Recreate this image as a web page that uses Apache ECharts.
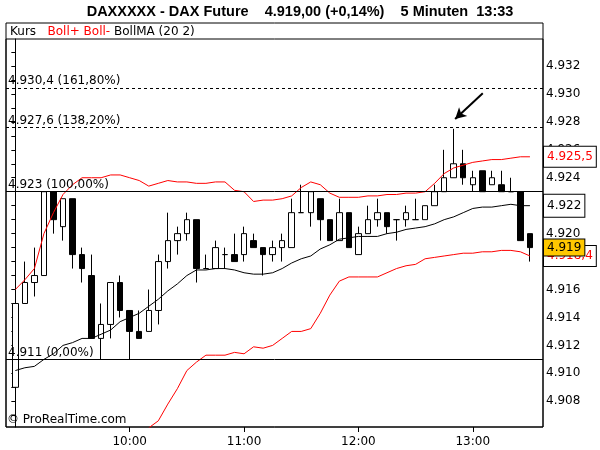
<!DOCTYPE html>
<html><head><meta charset="utf-8">
<script src="https://cdn.jsdelivr.net/npm/echarts@6/dist/echarts.min.js"></script>
<style>html,body{margin:0;padding:0;background:#fff}#c{width:600px;height:450px}</style>
</head><body><div id="c"></div>
<script>
const times = ['09:00','09:05','09:10','09:15','09:20','09:25','09:30','09:35','09:40','09:45','09:50','09:55',
 '10:00','10:05','10:10','10:15','10:20','10:25','10:30','10:35','10:40','10:45','10:50','10:55',
 '11:00','11:05','11:10','11:15','11:20','11:25','11:30','11:35','11:40','11:45','11:50','11:55',
 '12:00','12:05','12:10','12:15','12:20','12:25','12:30','12:35','12:40','12:45','12:50','12:55',
 '13:00','13:05','13:10','13:15','13:20','13:25','13:30'];
const open = [4909.0,4915.0,4916.5,4917.0,4923.0,4920.5,4922.5,4918.5,4917.0,4912.5,
 4913.5,4916.5,4914.5,4913.0,4913.0,4914.5,4918.0,4919.5,4920.0,4921.0,
 4917.5,4917.5,4918.5,4918.5,4918.5,4919.5,4919.0,4918.5,4919.0,4919.0,
 4921.5,4921.5,4922.5,4921.0,4919.5,4921.5,4918.5,4920.0,4921.0,4921.5,
 4921.0,4921.0,4921.0,4921.0,4922.0,4923.0,4924.0,4925.0,4923.5,4924.5,
 4923.5,4923.5,4923.0,4923.0,4920.0];
const close = [4915.0,4916.5,4917.0,4923.0,4921.0,4922.5,4918.5,4917.5,4912.5,4913.5,
 4916.5,4914.5,4913.0,4912.5,4914.5,4918.0,4919.5,4920.0,4921.0,4917.5,
 4917.5,4919.0,4918.5,4918.0,4920.0,4919.0,4918.5,4919.0,4919.5,4921.5,
 4921.5,4923.0,4921.0,4919.5,4921.5,4919.0,4920.0,4921.0,4921.5,4920.5,
 4921.0,4921.5,4921.0,4922.0,4923.0,4924.0,4925.0,4924.0,4924.0,4923.0,
 4924.0,4923.0,4923.0,4919.5,4919.0];
const low = [4908.5,4915.0,4915.5,4917.0,4920.0,4919.5,4917.5,4916.5,4912.5,4911.0,
 4912.5,4914.0,4911.0,4912.5,4913.0,4913.5,4917.5,4918.5,4919.5,4916.5,
 4917.5,4917.5,4917.5,4918.0,4918.0,4919.0,4917.0,4918.0,4918.0,4919.0,
 4921.5,4920.5,4919.5,4919.5,4919.5,4919.0,4918.5,4920.0,4920.5,4920.0,
 4919.5,4920.5,4921.0,4921.0,4922.0,4923.0,4924.0,4923.5,4923.0,4923.0,
 4923.5,4923.0,4923.0,4919.5,4918.0];
const high = [4915.0,4918.0,4919.0,4923.0,4923.0,4922.5,4922.5,4919.0,4918.5,4915.0,
 4916.5,4917.0,4914.5,4914.5,4916.0,4918.5,4921.5,4920.5,4921.5,4921.0,
 4918.5,4919.5,4919.0,4920.0,4920.5,4920.0,4919.0,4919.5,4920.0,4922.5,
 4923.5,4923.0,4922.5,4921.0,4922.5,4921.5,4920.5,4922.0,4922.5,4921.5,
 4921.0,4922.0,4922.5,4922.0,4923.5,4926.0,4927.5,4926.0,4924.5,4924.5,
 4924.5,4924.5,4924.0,4923.0,4920.0];
const bollUp = [4916.0,4916.7,4917.5,4920.0,4921.5,4922.8,4923.5,4924.0,4924.0,4924.0,
 4924.2,4924.2,4924.0,4923.8,4923.4,4923.6,4923.8,4923.7,4923.7,4923.6,
 4923.6,4923.7,4923.7,4923.1,4923.0,4922.3,4922.4,4922.4,4922.5,4922.7,
 4923.3,4923.7,4923.5,4922.9,4922.6,4922.6,4922.6,4922.7,4922.7,4922.8,
 4922.8,4922.9,4922.9,4923.0,4923.6,4924.3,4924.7,4924.9,4925.1,4925.2,
 4925.3,4925.3,4925.4,4925.5,4925.5];
const bollMA = [4910.2,4910.4,4910.5,4911.0,4911.4,4912.0,4912.2,4912.5,4912.5,4912.8,
 4913.1,4913.7,4914.0,4914.3,4914.8,4915.3,4915.9,4916.4,4917.0,4917.4,
 4917.4,4917.5,4917.5,4917.4,4917.2,4917.1,4917.1,4917.2,4917.5,4917.9,
 4918.2,4918.4,4918.9,4919.2,4919.6,4919.7,4919.8,4919.8,4919.8,4920.0,
 4920.1,4920.3,4920.4,4920.5,4920.7,4921.0,4921.2,4921.5,4921.8,4921.9,
 4921.9,4922.0,4922.1,4922.0,4922.0];
const bollDown = [null,null,null,null,null,null,null,null,null,null,
 null,null,4904.6,4905.4,4906.1,4906.6,4907.8,4908.9,4910.2,4910.8,
 4911.3,4911.3,4911.3,4911.5,4911.4,4911.9,4911.8,4912.0,4912.5,4913.0,
 4913.0,4913.2,4914.3,4915.6,4916.6,4916.9,4916.9,4916.9,4916.9,4917.2,
 4917.5,4917.7,4917.8,4918.2,4918.3,4918.4,4918.5,4918.6,4918.6,4918.7,
 4918.7,4918.8,4918.8,4918.7,4918.4];
const xTickLabels = ['10:00','11:00','12:00','13:00'];
const yTickLabels = [4908,4910,4912,4914,4916,4918,4920,4922,4924,4926,4928,4930,4932];
const fibLevels = [4911, 4923, 4927.6, 4930.4];
const fibPct = ['0,00%','100,00%','138,20%','161,80%'];

function de(v, d) {
  const s = v.toFixed(d);
  const parts = s.split('.');
  const ip = parts[0].replace(/\B(?=(\d{3})+(?!\d))/g, '.');
  return parts[1] ? ip + ',' + parts[1] : ip;
}
const FONT = 'DejaVu Sans';
const n = times.length;
const last = n - 1;
const candles = times.map((t, i) => [i, open[i], close[i], low[i], high[i]]);
const lineData = arr => arr.map((v, i) => [i, v]);
const yMinorTicks = [];
for (let v = 4907; v <= 4933; v++) yMinorTicks.push(v);

function lastBox(value, text, color, bg, pad, z) {
  return {
    silent: true, symbol: ['none', 'none'], z: z,
    lineStyle: { color: 'rgba(0,0,0,0)', width: 1 },
    label: { show: true, position: 'end', distance: 1, formatter: text, color: color,
      fontFamily: FONT, fontSize: 12, backgroundColor: bg, borderColor: '#000', borderWidth: 1,
      padding: pad, lineHeight: 14 },
    data: [{ yAxis: value }]
  };
}

const chart = echarts.init(document.getElementById('c'), null, { renderer: 'canvas' });
const fibData = fibLevels.map((v, k) => ({
  yAxis: v,
  lineStyle: { color: '#000', width: 1, type: k >= 2 ? [3, 3] : 'solid' },
  label: { show: true, position: 'insideStartTop', distance: [2, 1], color: '#000',
    fontFamily: FONT, fontSize: 12,
    formatter: de(v, v % 1 ? 1 : 0) + ' (' + fibPct[k] + ')' }
}));
const option = {
  animation: false,
  backgroundColor: '#fff',
  title: [
    { text: 'DAXXXXX - DAX Future    4.919,00 (+0,14%)    5 Minuten  13:33', left: 'center', top: 4, padding: 0,
      textStyle: { fontFamily: 'Liberation Sans', fontWeight: 'bold', fontSize: 14.5, color: '#000' } },
    { text: '{k|Kurs}{r|   Boll+ Boll-}{b| BollMA (20 2)}', left: 10, top: 25.5, padding: 0,
      textStyle: { fontFamily: FONT, fontSize: 12, fontWeight: 'normal',
        rich: { k: { color: '#000', fontFamily: FONT, fontSize: 12 }, r: { color: '#ff0000', fontFamily: FONT, fontSize: 12 }, b: { color: '#000', fontFamily: FONT, fontSize: 12 } } } },
    { text: '\u00a9 ProRealTime.com', left: 7, top: 414, padding: 0,
      textStyle: { fontFamily: FONT, fontSize: 12, fontWeight: 'normal', color: '#000' } }
  ],
  grid: [
    { left: 6, right: 57, top: 39, bottom: 23, show: true, borderColor: '#000', borderWidth: 1, outerBoundsMode: 'none', containLabel: false },
    { left: 6, right: 57, top: 23, bottom: 23, show: true, borderColor: '#000', borderWidth: 1, outerBoundsMode: 'none', containLabel: false }
  ],
  xAxis: {
    type: 'value', gridIndex: 0, min: -0.98, max: 55.37,
    axisLine: { show: false }, splitLine: { show: false },
    axisTick: { show: true, inside: false, length: 5, lineStyle: { color: '#000' },
      customValues: xTickLabels.map(t => times.indexOf(t)) },
    axisLabel: { customValues: xTickLabels.map(t => times.indexOf(t)), formatter: v => times[v],
      color: '#000', fontFamily: FONT, fontSize: 12, margin: 9 }
  },
  yAxis: {
    type: 'value', gridIndex: 0, position: 'right', min: 4906.16, max: 4933.93, scale: true,
    axisLine: { show: true, lineStyle: { color: '#000', width: 1 } },
    splitLine: { show: false },
    axisTick: { show: true, inside: true, length: 4, lineStyle: { color: '#000' }, customValues: yMinorTicks },
    axisLabel: { customValues: yTickLabels, formatter: v => de(v, 0), color: '#000',
      fontFamily: FONT, fontSize: 12, margin: 3 }
  },
  series: [
    { name: 'Kurs', type: 'candlestick', data: candles, encode: { x: 0, y: [1, 2, 3, 4] },
      barWidth: 6,
      itemStyle: { color: '#fff', color0: '#000', borderColor: '#000', borderColor0: '#000', borderWidth: 1 },
      markLine: {
        silent: true, symbol: ['none', 'none'], z: 4,
        data: fibData.concat([[
          { coord: [49.05, 4930.05], symbol: 'none', lineStyle: { color: '#000', width: 2, type: 'solid' }, label: { show: false } },
          { coord: [46.15, 4928.2], symbol: 'arrow', symbolSize: [9, 11] }
        ]])
      }
    },
    { name: 'Boll+', type: 'line', data: lineData(bollUp), showSymbol: false, symbol: 'none',
      lineStyle: { color: '#ff0000', width: 1 }, markLine: lastBox(bollUp[last], de(bollUp[last], 1), '#ff0000', '#fff', [3, 3, 3, 3], 8) },
    { name: 'Boll-', type: 'line', data: lineData(bollDown), showSymbol: false, symbol: 'none',
      lineStyle: { color: '#ff0000', width: 1 }, markLine: lastBox(bollDown[last], de(bollDown[last], 1), '#ff0000', '#fff', [3, 3, 3, 3], 8) },
    { name: 'BollMA', type: 'line', data: lineData(bollMA), showSymbol: false, symbol: 'none',
      lineStyle: { color: '#000', width: 1 }, markLine: lastBox(bollMA[last], de(bollMA[last], 0), '#000', '#fff', [4, 3, 4, 3], 8) },
    { name: 'KursLast', type: 'line', data: lineData(close), showSymbol: false, symbol: 'none',
      lineStyle: { opacity: 0, width: 0 }, silent: true,
      markLine: lastBox(close[last], de(close[last], 0), '#000', '#FFC800', [1, 3, 1, 3], 12) }
  ]
};
chart.setOption(option);
</script></body></html>
